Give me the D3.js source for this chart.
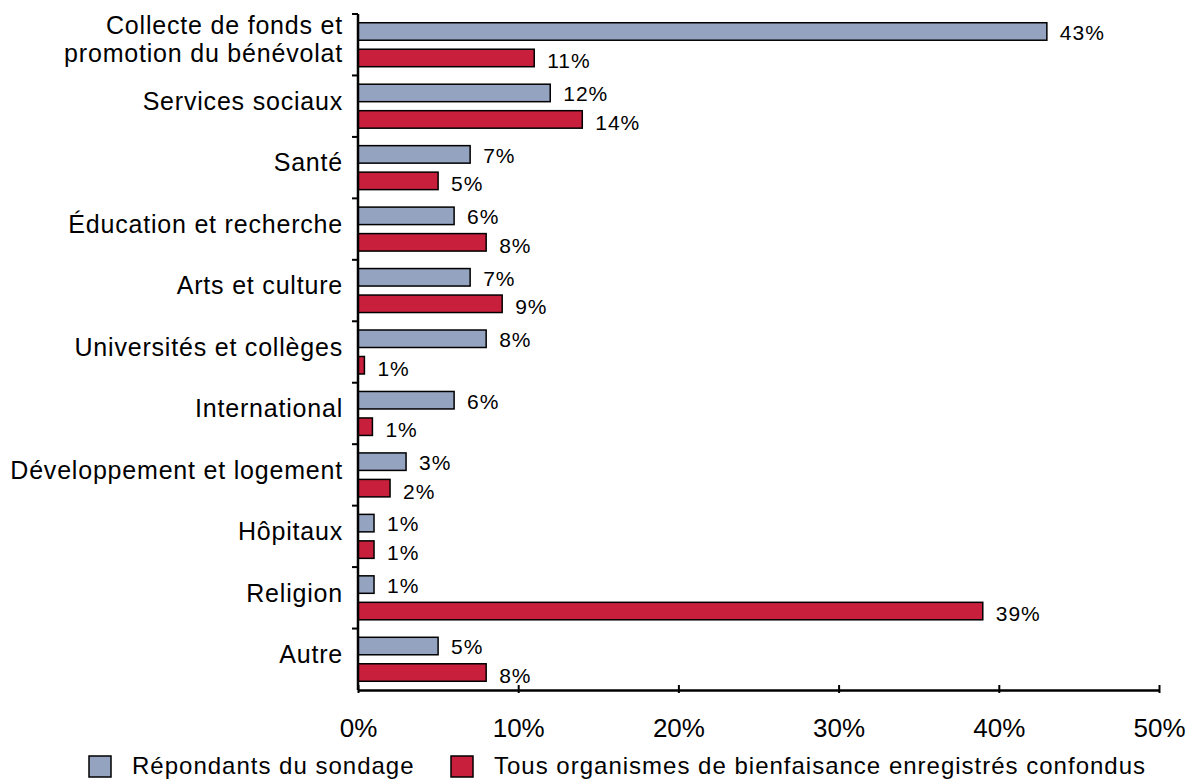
<!DOCTYPE html>
<html>
<head>
<meta charset="utf-8">
<script src="https://cdn.jsdelivr.net/npm/d3@7"></script>
<style>
  body { margin: 0; background: #fff; }
  text { font-family: "Liberation Sans", Arial, sans-serif; fill: #000; }
</style>
</head>
<body>
<div id="chart"></div>
<script>
// categories (each entry = lines of the label)
var categories = [
  ["Collecte de fonds et", "promotion du bénévolat"],
  ["Services sociaux"],
  ["Santé"],
  ["Éducation et recherche"],
  ["Arts et culture"],
  ["Universités et collèges"],
  ["International"],
  ["Développement et logement"],
  ["Hôpitaux"],
  ["Religion"],
  ["Autre"]
]
var seriesNames = ["Répondants du sondage", "Tous organismes de bienfaisance enregistrés confondus"]
var repondants = [43, 12, 7, 6, 7, 8, 6, 3, 1, 1, 5]
var tousOrganismes = [11, 14, 5, 8, 9, 0.4, 0.9, 2, 1, 39, 8]
var xTicks = [0, 10, 20, 30, 40, 50]
var colors = ["#94a3c0", "#c8203c"]

var width = 1198, height = 780
var margin = {top: 14, right: 39, bottom: 90, left: 358}

var svg = d3.select("#chart").append("svg")
    .attr("width", width)
    .attr("height", height)

var g = svg.append("g")
    .attr("transform", "translate(" + margin.left + "," + margin.top + ")")

var innerW = width - margin.left - margin.right
var innerH = height - margin.top - margin.bottom

var x = d3.scaleLinear().domain([0, 50]).range([0, innerW])
var y = d3.scaleBand().domain(d3.range(categories.length)).range([0, innerH]).paddingInner(0).paddingOuter(0)
var ySub = d3.scaleBand().domain([0, 1]).range([0, y.bandwidth()]).paddingInner(0.34).paddingOuter(0.33)

var rows = []
categories.forEach(function(c, i) {
    rows.push({i: i, s: 0, v: repondants[i]})
    rows.push({i: i, s: 1, v: tousOrganismes[i]})
})

// bars
g.selectAll("rect.bar")
    .data(rows)
    .enter()
    .append("rect")
    .attr("class", "bar")
    .attr("x", x(0))
    .attr("y", function(d) { return y(d.i) + ySub(d.s) })
    .attr("width", function(d) { return x(d.v) - x(0) })
    .attr("height", ySub.bandwidth())
    .style("fill", function(d) { return colors[d.s] })
    .style("stroke", "#000")
    .style("stroke-width", 1.5)

// value labels
g.selectAll("text.val")
    .data(rows)
    .enter()
    .append("text")
    .attr("class", "val")
    .attr("x", function(d) { return x(d.v) + 13 })
    .attr("y", function(d) { return y(d.i) + ySub(d.s) + ySub.bandwidth() / 2 + (d.s == 1 ? 3 : 1) })
    .attr("dy", "0.35em")
    .attr("font-size", "21px")
    .attr("letter-spacing", "1px")
    .text(function(d) { return Math.max(1, Math.round(d.v)) + "%" })

// y axis
g.append("line")
    .attr("x1", 0).attr("x2", 0)
    .attr("y1", 0).attr("y2", innerH)
    .style("stroke", "#000").style("stroke-width", 2.5)

g.selectAll("line.ytick")
    .data(d3.range(categories.length))
    .enter()
    .append("line")
    .attr("class", "ytick")
    .attr("x1", -6).attr("x2", 0)
    .attr("y1", function(d) { return y(d) }).attr("y2", function(d) { return y(d) })
    .style("stroke", "#000").style("stroke-width", 2)

// category labels
var catLabels = g.selectAll("text.cat")
    .data(categories)
    .enter()
    .append("text")
    .attr("class", "cat")
    .attr("text-anchor", "end")
    .attr("font-size", "25px")
    .attr("letter-spacing", "0.8px")
    .attr("x", -15)
    .attr("y", function(d, i) { return y(i) + y.bandwidth() / 2 - 5 - (d.length - 1) * 14 })

catLabels.selectAll("tspan")
    .data(function(d) { return d })
    .enter()
    .append("tspan")
    .attr("x", -15)
    .attr("dy", function(d, j) { return j == 0 ? "0.35em" : "28px" })
    .text(function(d) { return d })

// x axis
var xAxis = g.append("g")
    .attr("transform", "translate(0," + innerH + ")")
    .call(d3.axisBottom(x).tickValues(xTicks).tickSize(0).tickFormat(function(d) { return d + "%" }))

xAxis.select(".domain").style("stroke", "#000").style("stroke-width", 2.5)
xAxis.selectAll(".tick line").remove()
xAxis.selectAll(".tick").append("line")
    .attr("y1", -5).attr("y2", 3)
    .style("stroke", "#000").style("stroke-width", 2)
xAxis.selectAll(".tick text")
    .attr("y", 47)
    .attr("dy", "0")
    .style("font-family", "Liberation Sans, Arial, sans-serif")
    .style("font-size", "26px")
    .style("fill", "#000")
    .attr("text-anchor", "middle")

// legend
var legendX = [89, 451]
var legend = svg.selectAll("g.legend")
    .data(seriesNames)
    .enter()
    .append("g")
    .attr("class", "legend")
    .attr("transform", function(d, i) { return "translate(" + legendX[i] + ",756)" })

legend.append("rect")
    .attr("width", 22).attr("height", 21)
    .style("fill", function(d, i) { return colors[i] })
    .style("stroke", "#000").style("stroke-width", 1.5)

legend.append("text")
    .attr("x", 43)
    .attr("y", 18)
    .attr("font-size", "24px")
    .attr("letter-spacing", "1px")
    .text(function(d) { return d })
</script>
</body>
</html>
